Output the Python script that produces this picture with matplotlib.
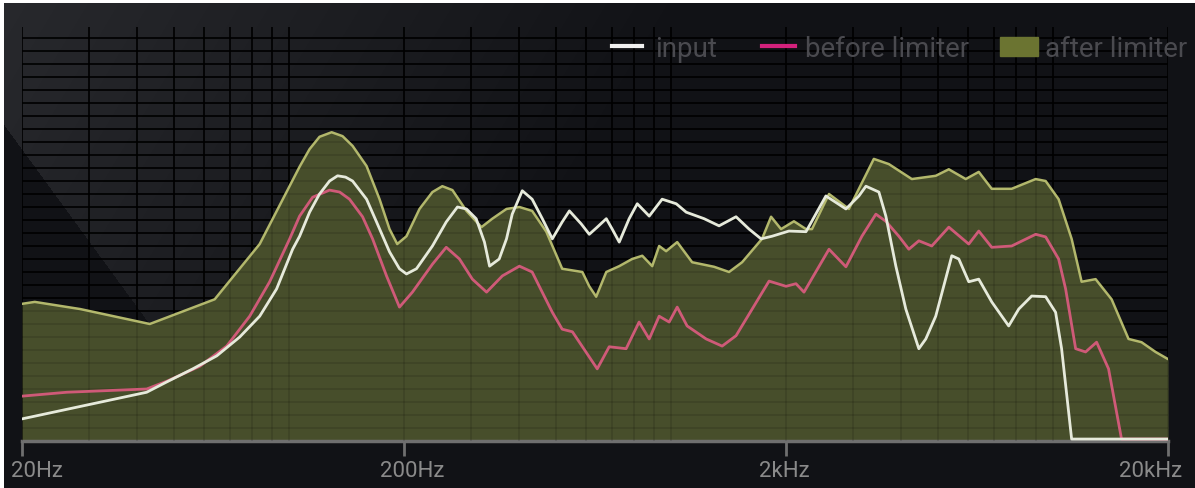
import numpy as np
import matplotlib
matplotlib.use("Agg")
import matplotlib.pyplot as plt
from matplotlib.lines import Line2D
from matplotlib.patches import Rectangle
from matplotlib.ticker import NullLocator
from matplotlib.transforms import ScaledTranslation

plt.rcParams['font.family'] = ['Roboto', 'DejaVu Sans']

# --- data (Hz, dB) ---
after_f = [20, 21.6, 28.4, 43.2, 63.9, 83.8, 106.6, 113.2, 120.2, 129.3, 138.1, 146.7, 159.6,
           172.6, 183.3, 192, 203, 219.6, 237.4, 252, 267.8, 291.4, 319, 340.6, 371, 401,
           433, 471.6, 519, 586, 611, 637, 677, 732, 791, 841, 893, 931, 971, 1038, 1136,
           1297, 1419, 1535, 1731, 1828, 1941, 2098, 2256, 2339, 2592, 2922, 3104, 3396,
           3718, 4270, 4932, 5336, 5910, 6392, 6912, 7794, 9008, 9566, 10344, 11188, 11882,
           12928, 14236, 15766, 17050, 18554, 20000]
after_db = [-42.9, -42.6, -43.7, -46.0, -42.2, -33.7, -21.8, -19.1, -17.2, -16.5, -17.1, -18.6,
            -21.7, -26.8, -31.4, -33.7, -32.5, -28.3, -25.7, -24.8, -25.4, -28.6, -31.1, -29.8,
            -28.3, -28.0, -28.6, -31.8, -37.5, -38.0, -40.2, -41.8, -38.0, -37.1, -36.0, -35.5,
            -37.1, -34.0, -34.8, -33.4, -36.5, -37.2, -38.0, -36.5, -32.9, -29.5, -31.4, -30.2,
            -31.4, -31.4, -26.0, -28.3, -25.2, -20.6, -21.4, -23.7, -23.2, -22.2, -23.7, -22.6,
            -25.2, -25.2, -23.7, -24.0, -26.8, -32.9, -39.5, -39.1, -42.2, -48.3, -48.8, -50.3,
            -51.4]

input_f = [20, 42.4, 47.9, 56.0, 64.7, 74.3, 83.8, 92.8, 102.2, 106.6, 113.2, 120.2, 127.7,
           134, 140.6, 146.7, 159.6, 169.5, 183.3, 194.6, 203, 215.6, 237.4, 258, 276, 291.4,
           309, 324.8, 335, 355, 371, 384, 408, 433, 460.4, 489, 519, 542, 582, 611, 641, 677,
           701.6, 732, 777, 816, 877, 948, 1032, 1096, 1221, 1336, 1480, 1601, 1721, 1838,
           2036, 2256, 2544, 2870, 3104, 3238, 3501, 3651, 3878, 4118, 4454, 4645, 4932, 5433,
           5668, 6018, 6392, 6912, 7656, 8134, 8794, 9566, 10158, 10532, 11188, 20000]
input_db = [-60.6, -56.5, -54.9, -52.9, -50.9, -48.0, -44.8, -40.6, -34.5, -32.5, -28.8, -26.0,
            -24.0, -23.2, -23.4, -24.0, -26.8, -30.3, -34.9, -37.5, -38.3, -37.5, -34.0, -30.3,
            -28.0, -28.3, -29.8, -33.4, -37.1, -36.0, -32.9, -29.1, -25.5, -26.8, -29.8, -32.9,
            -30.3, -28.6, -30.6, -32.2, -31.1, -29.8, -31.4, -33.4, -29.8, -27.5, -29.4, -26.8,
            -27.5, -28.8, -29.8, -30.9, -29.5, -31.4, -32.9, -32.5, -31.7, -31.8, -26.3, -28.3,
            -26.3, -24.8, -25.7, -29.4, -37.1, -43.7, -49.8, -48.3, -44.8, -35.5, -36.0, -39.5,
            -39.1, -42.6, -46.3, -43.7, -41.7, -41.8, -44.2, -49.8, -63.7, -63.7]

before_f = [20, 26.2, 42.4, 47.9, 58.4, 68.7, 78.9, 89.0, 100.4, 106.6, 115.3, 127.7, 135.7,
            144, 155.8, 165.5, 180, 194.6, 210.4, 237.4, 258, 279.4, 302, 329, 361.8, 401, 433,
            452, 489, 519, 552, 641, 689, 763, 825, 877, 931, 989, 1038, 1102, 1236, 1361,
            1480, 1806, 2000, 2124, 2229, 2592, 2870, 3160, 3438, 3651, 3949, 4194, 4454, 4816,
            5336, 6018, 6392, 6912, 7794, 9008, 9566, 10344, 10790, 11462, 12171, 13006,
            13978, 15114, 20000]
before_db = [-57.1, -56.5, -56.0, -54.8, -52.5, -49.4, -44.8, -39.5, -32.9, -29.4, -26.5, -25.4,
             -25.7, -26.8, -29.5, -32.9, -38.6, -43.4, -41.1, -36.8, -34.2, -36.0, -39.1, -41.1,
             -38.6, -37.1, -38.0, -40.2, -44.2, -46.8, -47.2, -52.9, -49.5, -49.8, -45.7, -48.3,
             -44.8, -45.7, -43.4, -46.3, -48.3, -49.4, -47.8, -39.4, -40.2, -39.8, -41.1, -34.5,
             -37.2, -32.5, -29.1, -30.2, -32.5, -34.5, -33.2, -34.0, -31.1, -33.7, -31.7, -34.2,
             -34.0, -32.2, -32.6, -36.0, -40.6, -49.8, -50.3, -48.8, -52.9, -63.7, -63.7]

tick_f = [20, 200, 2000, 20000]
tick_lbl = ['20Hz', '200Hz', '2kHz', '20kHz']

W, H = 1195, 489
FLOOR = -64

fig = plt.figure(figsize=(W / 100, H / 100), dpi=100, facecolor='white')

# background panel with the glossy glare in the top-left corner
bg = fig.add_axes([0, 0, 1, 1])
bg.axis('off')
yy, xx = np.mgrid[0:H, 0:W]
glow = np.clip(1 - (xx + 0.6 * yy) / 700, 0, 1) * 0.09
shadow = (xx < 7 + 0.73 * (yy - 130)) | (yy > 441)
glow[shadow] = 0
img = np.array([17, 18, 22])[None, None, :] / 255 + glow[..., None]
img[(xx < 4) | (yy < 4)] = 1
bg.imshow(np.clip(img, 0, 1), extent=[0, W, H, 0], aspect='auto', interpolation='bilinear')
bg.set_xlim(0, W)
bg.set_ylim(H, 0)

ax = fig.add_axes([22 / W, 47 / H, 1146 / W, 416 / H])
ax.set_facecolor('none')
ax.set_xscale('log')
ax.set_xlim(20, 20000)
ax.set_ylim(FLOOR, 0)

# grid: dark lines under the fill, faint ones on top
grid_f = [m * 10 ** e for e in range(1, 5) for m in range(1, 10) if 20 <= m * 10 ** e <= 20000]
grid_db = np.arange(-62, 0, 2)
for z, a in [(1, 0.9), (3, 0.12)]:
    ax.vlines(grid_f, FLOOR, -0.3, color='black', lw=1.3, alpha=a, zorder=z)
    ax.hlines(grid_db, 20, 20000, color='black', lw=1.3, alpha=a, zorder=z)

line_kw = dict(solid_joinstyle='round', solid_capstyle='round')
ax.fill_between(after_f, after_db, FLOOR, color='#474e2b', lw=0, zorder=2)
ax.plot(after_f, after_db, color='#b3b86c', lw=1.8, zorder=4, **line_kw)
ax.plot(before_f, before_db, color='#cf5a78', lw=2, zorder=5, **line_kw)
ax.plot(input_f, input_db, color='#e6eadb', lw=2, zorder=6, **line_kw)

for s in ['top', 'left', 'right']:
    ax.spines[s].set_visible(False)
ax.spines['bottom'].set_color('#6f6f6f')
ax.spines['bottom'].set_linewidth(2.5)
ax.set_yticks([])
ax.set_xticks(tick_f, tick_lbl)
ax.xaxis.set_minor_locator(NullLocator())
ax.tick_params(axis='x', length=11, width=2, color='#6f6f6f', labelcolor='#8a8a8a',
               labelsize=16, pad=3)
for lab, dx in zip(ax.get_xticklabels(), [15, 8, -2, -17]):
    lab.set_transform(lab.get_transform() + ScaledTranslation(dx / 100, 0, fig.dpi_scale_trans))

# legend drawn by hand, like the plugin UI
def fx(x):
    return x / W

def fy(y):
    return 1 - y / H

txt = dict(color='#4a4a4f', fontsize=20, va='baseline', ha='left')
fig.add_artist(Line2D([fx(612), fx(642)], [fy(47)] * 2, color='#f0f0f0', lw=3))
fig.text(fx(655), fy(57), 'input', **txt)
fig.add_artist(Line2D([fx(762), fx(795)], [fy(47)] * 2, color='#d3217c', lw=3))
fig.text(fx(805), fy(57), 'before limiter', **txt)
fig.add_artist(Rectangle((fx(1000), fy(57)), 38 / W, 19 / H, transform=fig.transFigure,
                         color='#6b7431'))
fig.text(fx(1045), fy(57), 'after limiter', **txt)

fig.savefig('out.png', dpi=100, facecolor=fig.get_facecolor())
